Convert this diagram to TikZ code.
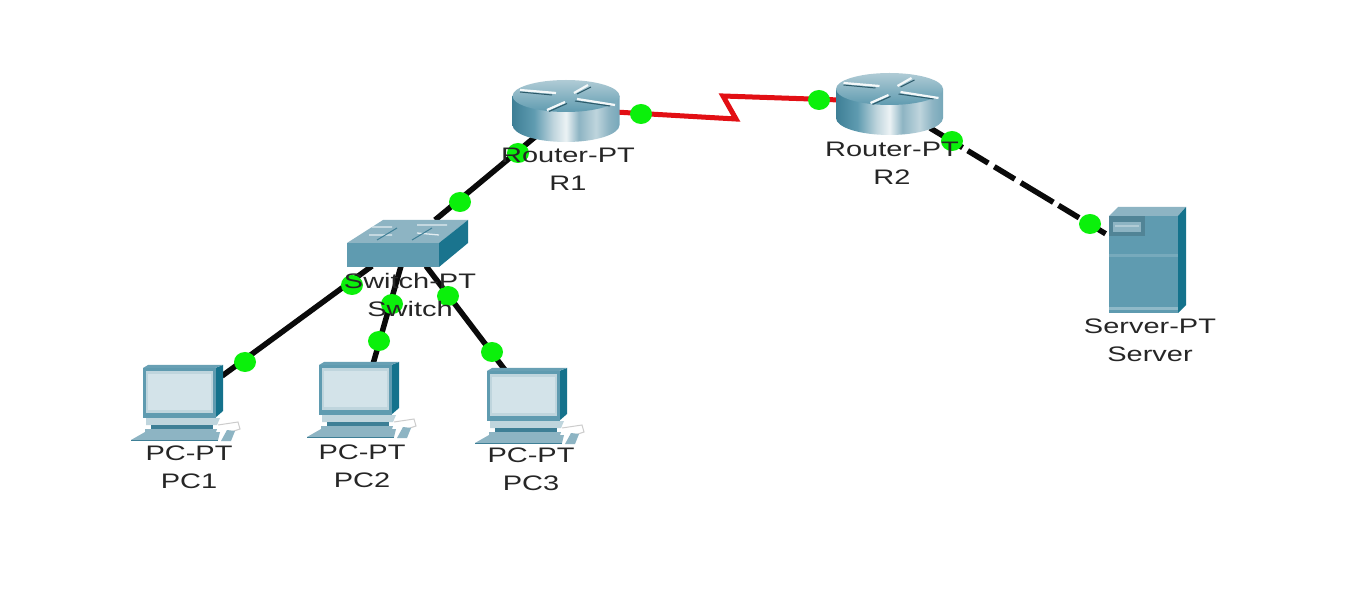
\documentclass[tikz,border=0pt]{standalone}
\usepackage{fontspec}
\setmainfont[FakeStretch=1.38]{Liberation Sans}
\definecolor{ledg}{HTML}{0BF00B}
\definecolor{tealA}{HTML}{5F9BB0}
\definecolor{tealB}{HTML}{3E7F96}
\definecolor{tealD}{HTML}{14728C}
\definecolor{tealL}{HTML}{8DB4C3}
\definecolor{tealP}{HTML}{BFD5DD}
\definecolor{screenC}{HTML}{D3E3E9}
\definecolor{wire}{HTML}{0A0A0A}
\definecolor{serial}{HTML}{E20F14}
\pgfdeclarehorizontalshading{routerbody}{100bp}{
 color(0bp)=(tealB); color(25bp)=(tealB); color(35bp)=(tealA); color(44bp)=(tealP);
 color(50bp)=(white!70!tealP); color(56bp)=(tealL); color(64bp)=(tealP); color(70bp)=(tealL);
 color(80bp)=(tealA); color(100bp)=(tealD)}
\tikzset{
 link/.style={line width=5.5pt,draw=wire},
 seriallink/.style={line width=5pt,draw=serial,line join=miter},
 dashlink/.style={line width=5.5pt,draw=wire,dash pattern=on 38pt off 6pt on 24pt off 7pt on 24pt off 7pt},
 led/.style={ellipse,fill=ledg,draw=none,inner sep=0pt,minimum width=22pt,minimum height=20pt},
 lbl/.style={align=center,font=\fontsize{21}{28}\selectfont,text=black!85,inner sep=0pt},
 router/.pic={
  \shade[shading=routerbody] (-53.5,0) -- (-53.5,29) arc[start angle=180,end angle=0,x radius=53.5,y radius=17] -- (53.5,0) -- cycle;
  \shade[top color=tealP!70!tealL,bottom color=tealA] (0,0) ellipse[x radius=53.5,y radius=16];
  \draw[white!90!tealL,line width=2.2pt] (-46,-6) -- (-10,-3) (8,-3) -- (22,-11) (11,3) -- (49,9) (-19,14) -- (-1,6);
  \draw[tealB!70!black,line width=1pt] (-46,-4) -- (-14,-1) (11,-2) -- (25,-9) (9,5) -- (44,10) (-17,15.5) -- (1,7.5);
 },
 swbox/.pic={
  \fill[tealL] (0,0) -- (36,-23) -- (121,-23) -- (92,0) -- cycle;
  \fill[tealA] (0,0) -- (92,0) -- (92,24) -- (0,24) -- cycle;
  \fill[tealD!85!tealB] (92,0) -- (121,-23) -- (121,0) -- (92,24) -- cycle;
  \draw[white!75!tealL,line width=1.3pt] (25,-16) -- (45,-16) (70,-18) -- (100,-18) (22,-8) -- (45,-8) (70,-10) -- (92,-8);
  \draw[tealB,line width=1pt] (30,-3) -- (50,-15) (65,-3) -- (85,-15);
 },
 pcbox/.pic={
  \fill[tealD] (72,3) -- (80,0) -- (80,46) -- (72,53) -- cycle;
  \fill[tealA!80!tealL] (0,3) -- (5,0) -- (80,0) -- (72,3) -- cycle;
  \fill[tealA] (0,3) rectangle (73,53);
  \fill[tealP] (3,6) rectangle (70,48);
  \fill[screenC] (5,9) rectangle (68,45);
  \fill[tealP] (3,53) -- (77,53) -- (74,60) -- (3,60) -- cycle;
  \fill[tealB] (8,60) rectangle (70,64);
  \fill[tealL] (2,64) -- (74,64) -- (73,67) -- (2,67) -- cycle;
  \fill[tealL] (-12,75) -- (2,67) -- (77,67) -- (75,75) -- cycle;
  \fill[tealB] (-12,75) rectangle (75,76);
  \draw[black!20,line width=1pt] (75,60) -- (95,57) -- (97,64) -- (85,68);
  \fill[tealL] (78,76) -- (84,65) -- (92,66) -- (88,76) -- cycle;
 },
 srvbox/.pic={
  \fill[tealL] (0,0) -- (9,-9) -- (77,-9) -- (69,0) -- cycle;
  \fill[tealD] (69,0) -- (77,-9) -- (77,89) -- (69,97) -- cycle;
  \fill[tealA] (0,0) rectangle (69,97);
  \fill[tealA!85!black] (0,0) rectangle (36,20);
  \fill[tealL] (4,6) rectangle (32,16);
  \fill[tealP!70!tealL] (6,9) rectangle (30,11);
  \fill[tealA!85!white] (0,38) rectangle (69,41);
  \fill[tealA!70!white] (0,91) rectangle (69,94);
 }
}
\usetikzlibrary{shapes.geometric}
\begin{document}
\begin{tikzpicture}[x=1pt,y=-1pt]
\useasboundingbox (0,0) rectangle (1360,609);
\fill[white] (0,0) rectangle (1360,609);
% ports
\coordinate (r1down) at (535,137);
\coordinate (swup) at (435,220);
\coordinate (swa) at (372,266);
\coordinate (swb) at (401,266);
\coordinate (swc) at (426,266);
\coordinate (pc1port) at (222,376);
\coordinate (pc2port) at (373,364);
\coordinate (pc3port) at (505,370);
\coordinate (r1ser) at (615,112);
\coordinate (ledA) at (641,114);
\coordinate (r2ser) at (840,100);
\coordinate (zigA) at (736,119);
\coordinate (zigB) at (723,96);
\coordinate (r2down) at (930,128);
\coordinate (srvport) at (1111,237);
% connectors
\draw[link] (r1down) -- (swup);
\draw[link] (swa) -- (pc1port);
\draw[link] (swb) -- (pc2port);
\draw[link] (swc) -- (pc3port);
\draw[seriallink] (r1ser) -- (zigA) -- (zigB) -- (r2ser);
\draw[dashlink] (r2down) -- (srvport);
% link lights
\node[led] (l1) at (518,153) {};
\node[led] (l2) at (460,202) {};
\node[led] (l3) at (352,285) {};
\node[led] (l4) at (245,362) {};
\node[led] (l5) at (392,304) {};
\node[led] (l6) at (379,341) {};
\node[led] (l7) at (448,296) {};
\node[led] (l8) at (492,352) {};
\node[led] (l9) at (641,114) {};
\node[led] (l10) at (819,100) {};
\node[led] (l11) at (952,141) {};
\node[led] (l12) at (1090,224) {};
% devices
\pic at (566,96) {router};
\pic at (889.5,89) {router};
\pic at (347,243) {swbox};
\pic at (143,365) {pcbox};
\pic at (319,362) {pcbox};
\pic at (487,368) {pcbox};
\pic at (1109,216) {srvbox};
% labels
\node[lbl] (t1) at (568,169) {Router-PT\\R1};
\node[lbl] (t2) at (892,163) {Router-PT\\R2};
\node[lbl] (t3) at (410,295) {Switch-PT\\Switch};
\node[lbl] (t4) at (1150,340) {Server-PT\\Server};
\node[lbl] (t5) at (189,467) {PC-PT\\PC1};
\node[lbl] (t6) at (362,466) {PC-PT\\PC2};
\node[lbl] (t7) at (531,469) {PC-PT\\PC3};
\end{tikzpicture}
\end{document}
